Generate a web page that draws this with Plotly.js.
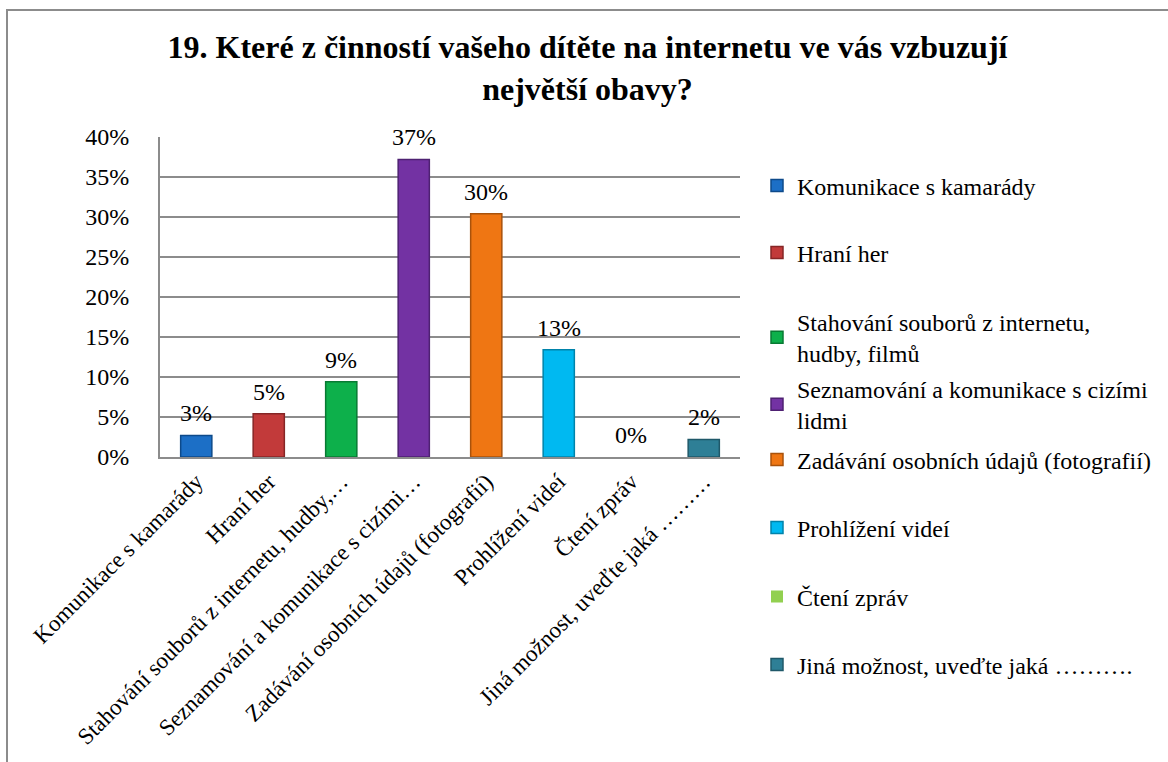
<!DOCTYPE html>
<html>
<head>
<meta charset="utf-8">
<script src="https://cdn.plot.ly/plotly-3.0.1.min.js"></script>
<style>
  body { margin: 0; background: #ffffff; }
  #chart { width: 1168px; height: 762px; }
  #frame {
    position: absolute; left: 6px; top: 9px; width: 1170px; height: 760px;
    border-left: 2px solid #8c8c8c; border-top: 2px solid #8c8c8c;
    pointer-events: none;
  }
</style>
</head>
<body>
<div id="chart"></div>
<div id="frame"></div>
<script>
// categories (full names) and the shortened axis labels
const categories = [
    "Komunikace s kamarády",
    "Hraní her",
    "Stahování souborů z internetu, hudby, filmů",
    "Seznamování a komunikace s cizími lidmi",
    "Zadávání osobních údajů (fotografií)",
    "Prohlížení videí",
    "Čtení zpráv",
    "Jiná možnost, uveďte jaká ………."
];
const tickLabels = [
    "Komunikace s kamarády",
    "Hraní her",
    "Stahování souborů z internetu, hudby,…",
    "Seznamování a komunikace s cizími…",
    "Zadávání osobních údajů (fotografií)",
    "Prohlížení videí",
    "Čtení zpráv",
    "Jiná možnost, uveďte jaká ………"
];
const legendLabels = [
    "Komunikace s kamarády",
    "Hraní her",
    "Stahování souborů z internetu,<br>hudby, filmů",
    "Seznamování a komunikace s cizími<br>lidmi",
    "Zadávání osobních údajů (fotografií)",
    "Prohlížení videí",
    "Čtení zpráv",
    "Jiná možnost, uveďte jaká ………."
];
const shares = [0.027, 0.054, 0.094, 0.372, 0.304, 0.134, 0, 0.022];

const fillColors = ['#1c6fc6', '#c23a3a', '#0db04b', '#7332a3', '#ef7613', '#00b9f1', '#92d050', '#2e7f96'];
const edgeColors = ['#0d4a8a', '#862626', '#087a33', '#4e2172', '#a9520b', '#0083aa', '#66953a', '#1f5869'];

// legend rows (pixel centre from top) - Excel spaces them evenly
const legendRows = [186, 253, 337.5, 404.5, 460, 528, 597, 665];

const FONT = 'Liberation Serif';
const H = 762;

var data = [];
var annotations = [];
var layout = {
    width: 1168,
    height: 762,
    paper_bgcolor: '#ffffff',
    plot_bgcolor: '#ffffff',
    font: {family: FONT, size: 24, color: '#000000'},
    title: {
        text: '<b>19. Které z činností vašeho dítěte na internetu ve vás vzbuzují<br>největší obavy?</b>',
        font: {family: FONT, size: 32, color: '#000000'},
        xref: 'container',
        x: 0.503,
        xanchor: 'center',
        yref: 'container',
        y: 1 - 58 / H,
        yanchor: 'top'
    },
    margin: {l: 160, r: 428, t: 137, b: 305, pad: 0},
    barmode: 'overlay',
    xaxis: {
        type: 'category',
        tickmode: 'array',
        tickvals: categories,
        ticktext: tickLabels,
        tickangle: -45,
        tickfont: {family: FONT, size: 23},
        showline: true,
        linecolor: '#8c8c8c',
        linewidth: 2,
        showgrid: false,
        ticks: '',
        ticklabelstandoff: 0
    },
    yaxis: {
        range: [0, 0.4],
        dtick: 0.05,
        tick0: 0,
        tickformat: '.0%',
        tickfont: {family: FONT, size: 24},
        showline: true,
        linecolor: '#8c8c8c',
        linewidth: 2,
        gridcolor: '#8c8c8c',
        gridwidth: 1.5,
        zeroline: false,
        ticks: '',
        ticklabelstandoff: 24
    },
    showlegend: true
};

for (let i = 0; i < categories.length; i++) {
    const legendId = i === 0 ? 'legend' : 'legend' + (i + 1);
    data.push({
        type: 'bar',
        name: legendLabels[i],
        x: [categories[i]],
        y: [shares[i]],
        width: 0.43,
        marker: {
            color: fillColors[i],
            line: {color: edgeColors[i], width: shares[i] > 0 ? 1.5 : 0}
        },
        legend: legendId,
        hoverinfo: 'skip'
    });
    // value label sits a little above the bar top, as in Excel
    annotations.push({
        x: categories[i],
        y: shares[i],
        xref: 'x',
        yref: 'y',
        text: Math.round(shares[i] * 100) + '%',
        showarrow: false,
        yanchor: 'bottom',
        yshift: 7,
        font: {family: FONT, size: 24, color: '#000000'}
    });
    layout[legendId] = {
        xref: 'container',
        yref: 'container',
        x: 757 / 1168,
        xanchor: 'left',
        y: 1 - legendRows[i] / H,
        yanchor: 'middle',
        bgcolor: 'rgba(0,0,0,0)',
        font: {family: FONT, size: 24, color: '#000000'},
        itemwidth: 30
    };
}
layout.annotations = annotations;

Plotly.newPlot('chart', data, layout, {displayModeBar: false, staticPlot: true});
</script>
</body>
</html>
